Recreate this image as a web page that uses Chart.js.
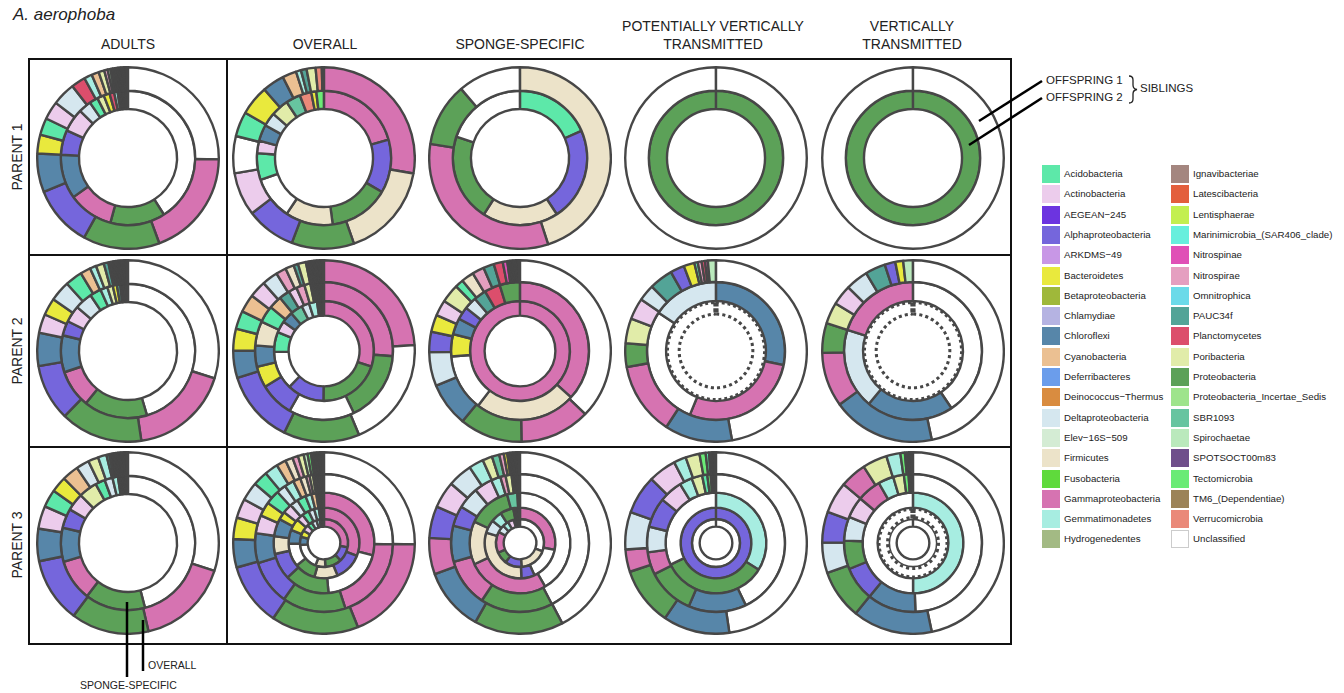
<!DOCTYPE html>
<html>
<head>
<meta charset="utf-8">
<script src="https://cdn.jsdelivr.net/npm/chart.js@4.4.1/dist/chart.umd.min.js"></script>
<style>
  html, body { margin: 0; padding: 0; background: #fff; }
  body { width: 1344px; height: 693px; position: relative; overflow: hidden; font-family: "Liberation Sans", Arial, sans-serif; color: #222; }
  .txt { position: absolute; white-space: nowrap; }
  .head { position: absolute; width: 220px; text-align: center; font-size: 14px; line-height: 18px; }
  .rowlab { position: absolute; font-size: 14px; transform: translate(-50%, -50%) rotate(-90deg); white-space: nowrap; }
  .cell { position: absolute; width: 184px; height: 184px; }
  .leg { position: absolute; font-size: 9.7px; line-height: 18px; white-space: nowrap; }
  .sw { display: inline-block; width: 18px; height: 18px; vertical-align: top; margin-right: 4px; box-sizing: border-box; }
  svg { position: absolute; left: 0; top: 0; }
</style>
</head>
<body>
<div class="txt" style="left:13px; top:5px; font-size:17px; font-style:italic;">A. aerophoba</div>
<div class="head" style="left:18px; top:35px;">ADULTS</div>
<div class="head" style="left:215px; top:35px;">OVERALL</div>
<div class="head" style="left:410px; top:35px;">SPONGE-SPECIFIC</div>
<div class="head" style="left:603px; top:17px;">POTENTIALLY VERTICALLY<br>TRANSMITTED</div>
<div class="head" style="left:802px; top:17px;">VERTICALLY<br>TRANSMITTED</div>
<div class="rowlab" style="left:17px; top:157px;">PARENT 1</div>
<div class="rowlab" style="left:17px; top:351px;">PARENT 2</div>
<div class="rowlab" style="left:17px; top:545px;">PARENT 3</div>
<div id="cells"></div>
<div id="legend"></div>
<div class="txt" style="left:1046px; top:74px; font-size:11.5px;">OFFSPRING 1</div>
<div class="txt" style="left:1046px; top:91px; font-size:11.5px;">OFFSPRING 2</div>
<div class="txt" style="left:1140px; top:82px; font-size:11.5px;">SIBLINGS</div>
<div class="txt" style="left:148px; top:659px; font-size:10.5px;">OVERALL</div>
<div class="txt" style="left:80px; top:679px; font-size:10.5px;">SPONGE-SPECIFIC</div>
<svg width="1344" height="693">
  <rect x="29" y="59" width="982" height="585" fill="none" stroke="#111" stroke-width="2"/>
  <line x1="227" y1="59" x2="227" y2="644" stroke="#111" stroke-width="2"/>
  <line x1="29" y1="255" x2="1011" y2="255" stroke="#111" stroke-width="2"/>
  <line x1="29" y1="447" x2="1011" y2="447" stroke="#111" stroke-width="2"/>
  <line x1="1042" y1="81" x2="979" y2="121" stroke="#000" stroke-width="2.5"/>
  <line x1="1042" y1="98" x2="969" y2="145" stroke="#000" stroke-width="2.5"/>
  <path d="M1129,76 q4,0 4,4 v5 q0,4 4,4.5 q-4,0.5 -4,4.5 v5 q0,4 -4,4" fill="none" stroke="#222" stroke-width="1.3"/>
  <line x1="127" y1="602" x2="127" y2="677" stroke="#000" stroke-width="2.5"/>
  <line x1="143" y1="620" x2="143" y2="671" stroke="#000" stroke-width="2.5"/>
</svg>
<script>
const taxa = ['Acidobacteria', 'Actinobacteria', 'AEGEAN\u2212245', 'Alphaproteobacteria', 'ARKDMS\u221249',
  'Bacteroidetes', 'Betaproteobacteria', 'Chlamydiae', 'Chloroflexi', 'Cyanobacteria', 'Deferribacteres',
  'Deinococcus\u2212Thermus', 'Deltaproteobacteria', 'Elev\u221216S\u2212509', 'Firmicutes', 'Fusobacteria',
  'Gammaproteobacteria', 'Gemmatimonadetes', 'Hydrogenedentes', 'Ignavibacteriae', 'Latescibacteria',
  'Lentisphaerae', 'Marinimicrobia_(SAR406_clade)', 'Nitrospinae', 'Nitrospirae', 'Omnitrophica', 'PAUC34f',
  'Planctomycetes', 'Poribacteria', 'Proteobacteria', 'Proteobacteria_Incertae_Sedis', 'SBR1093',
  'Spirochaetae', 'SPOTSOCT00m83', 'Tectomicrobia', 'TM6_(Dependentiae)', 'Verrucomicrobia', 'Unclassified'];
const taxonCodes = ['Aci', 'Act', 'AEG', 'Alp', 'ARK', 'Bac', 'Bet', 'Chla', 'Chl', 'Cya', 'Def', 'Dei', 'Del',
  'Elev', 'Fir', 'Fus', 'Gam', 'Gem', 'Hyd', 'Ign', 'Lat', 'Len', 'Mar', 'Nsp', 'Nsr', 'Omn', 'PAU', 'Pla', 'Por',
  'Pro', 'PIS', 'SBR', 'Spi', 'SPO', 'Tec', 'TM6', 'Ver', 'Unc'];
const taxonColors = ['#5de8a9', '#ecccec', '#6c34e0', '#7566dc', '#c897e6', '#e9e93d', '#9fb83a', '#b5b3e2',
  '#5786a9', '#ebc092', '#6b9deb', '#d98c40', '#d5e7ef', '#d4ecd4', '#ece3c9', '#5fda3c', '#d673b1', '#a7ede1',
  '#a3ba84', '#a4867f', '#e35f3d', '#c3ef50', '#67efdd', '#e050b6', '#e59fc0', '#6bdae9', '#53a497', '#dc4e6c',
  '#e1eca9', '#5ca158', '#9ee48c', '#67c4a0', '#bae9bc', '#6f4e8b', '#6aeb76', '#9c8358', '#ea8979', '#ffffff'];

// relative abundance (%) per ring, clockwise from 12 o'clock

// PARENT 1
const p1AdultsOverallTaxa = ['Unc','Gam','Pro','Alp','Chl','Bac','Aci','Act','Del','Pla','Gem','Cya','Por','Nsr','Spi','PAU','Tec','SBR','Ver','Lat','Omn','Def','Hyd','Mar','Chla','Ign','TM6','SPO','Fus','Elev','PIS','Nsp'];
const p1AdultsOverallPct = [25,19,13.5,10.8,6.8,3.3,3,3.2,4.1,2.5,1.4,1.3,1,0.6,0.5,0.4,0.3,0.2,0.2,0.15,0.15,0.15,0.15,0.15,0.15,0.15,0.15,0.15,0.15,0.15,0.15,0.15];
const p1AdultsSpongeTaxa = ['Unc','Pro','Gam','Chl','Alp','Act','Del','Aci','Por','Bac','Pla','Gem','PAU','Spi','Tec','Nsr','SBR','Cya','Ver','Lat','Omn','Hyd','Mar','Ign','Nsp'];
const p1AdultsSpongePct = [40,12.9,10.6,10.4,5.8,5.5,3,2,1.6,1.4,1.1,0.8,0.5,0.2,0.2,0.15,0.15,0.15,0.15,0.15,0.15,0.15,0.15,0.15,0.15];
const p1OverallOff1Taxa = ['Gam','Fir','Pro','Alp','Act','Unc','Aci','Bac','Chl','Cya','Gem','PAU','Por','Ver','Tec','Nsr'];
const p1OverallOff1Pct = [27.7,16.9,11.1,8.8,7.7,6.6,4.4,5.3,3.9,2.5,0.9,1,1.6,1.1,0.2,0.15];
const p1OverallOff2Taxa = ['Gam','Alp','Pro','Fir','Unc','Aci','Act','Chl','Del','Por','SBR','Ver','Bac','Tec'];
const p1OverallOff2Pct = [20.5,12.8,14.4,11.4,10.3,6.4,3,3.9,3.3,4.2,3.5,2.8,1.2,1.8];
const p1SpongeOff1Taxa = ['Fir','Gam','Pro','Unc'];
const p1SpongeOff1Pct = [45,32.5,11.3,11.2];
const p1SpongeOff2Taxa = ['Aci','Alp','Fir','Pro','Unc'];
const p1SpongeOff2Pct = [18.4,22.4,18.3,21.1,19.8];
const p1PvtOff1Taxa = ['Unc'];
const p1PvtOff1Pct = [100];
const p1PvtOff2Taxa = ['Pro'];
const p1PvtOff2Pct = [100];
const p1VtOff1Taxa = ['Unc'];
const p1VtOff1Pct = [100];
const p1VtOff2Taxa = ['Pro'];
const p1VtOff2Pct = [100];

// PARENT 2
const p2AdultsOverallTaxa = ['Unc','Gam','Pro','Alp','Chl','Act','Bac','Del','Aci','Cya','Gem','Por','PAU','Spi','Tec','Nsr','Pla','SBR','Ver','Lat','Omn','Def','Hyd','Mar','Chla','Ign','TM6','SPO','Fus','Elev','PIS','Nsp','Len'];
const p2AdultsOverallPct = [29.4,17.5,14.4,9.9,5.8,3.3,3,3.6,3,1.8,1.1,1.4,0.8,0.4,0.3,0.15,0.15,0.15,0.15,0.15,0.15,0.15,0.15,0.15,0.15,0.15,0.15,0.15,0.15,0.15,0.15,0.15,0.15];
const p2AdultsSpongeTaxa = ['Unc','Pro','Gam','Chl','Alp','Act','Del','Aci','Gem','Por','Bac','PAU','Spi','Tec','Nsr','Pla','SBR','Ver','Lat','Omn','Cya','Hyd','Mar','Ign'];
const p2AdultsSpongePct = [45,15.2,9,8.8,3.5,4,4.2,2.7,1.7,1.3,1,0.8,0.15,0.15,0.15,0.15,0.15,0.15,0.15,0.15,0.15,0.15,0.15,0.15];
const p2OverallOff1Taxa = ['Gam','Unc','Pro','Alp','Chl','Bac','Aci','Cya','Act','Del','Nsr','Fir','PAU','Por','Spi','Tec','Gem','Pla','SBR','Ver','Lat','Omn','Def','Hyd','Mar','Chla','Ign','TM6','SPO','Fus','Elev','PIS','Nsp','Len'];
const p2OverallOff1Pct = [23.8,19.6,13.4,12.9,4.8,3.9,3.2,3.2,3,2.8,1.8,1.5,0.8,1.4,0.2,0.2,0.2,0.15,0.15,0.15,0.15,0.15,0.15,0.15,0.15,0.15,0.15,0.15,0.15,0.15,0.15,0.15,0.15,0.15];
const p2OverallOff2Taxa = ['Gam','Pro','Unc','Alp','Bac','Chl','Fir','Aci','Cya','PAU','Act','Nsr','Por','Del','Gem','Spi','Tec','Pla','SBR','Ver','Lat','Omn','Def','Hyd','Mar','Chla','Ign','TM6','SPO','Fus','Elev'];
const p2OverallOff2Pct = [25.8,16.4,15.2,7.9,4.9,4.9,5.6,3.9,3,2.5,1.9,1.9,1.4,0.3,0.3,0.2,0.2,0.15,0.15,0.15,0.15,0.15,0.15,0.15,0.15,0.15,0.15,0.15,0.15,0.15,0.15];
const p2OverallOff3Taxa = ['Gam','Pro','Alp','Unc','Aci','Act','Chl','SBR','Del','Gem','Por','Bac','Spi','Tec','Nsr','Pla','Ver','Cya','Lat','Omn','Hyd','Mar'];
const p2OverallOff3Pct = [30,20.1,12,12.5,6.4,3.8,3.7,4,2.5,2.6,0.3,0.3,0.2,0.2,0.15,0.15,0.15,0.15,0.15,0.15,0.15,0.15];
const p2SpongeOff1Taxa = ['Unc','Gam','Pro','Chl','Del','Alp','Bac','Act','Por','Aci','Fir','Nsr','PAU','Pla','Nsp','Spi','Tec','SBR','Ver','Lat','Omn','Def','Hyd','Mar','Chla','Ign','TM6','SPO','Fus'];
const p2SpongeOff1Pct = [37,12.4,11.1,7.8,6,3.6,3,2.8,3.3,1.5,2.2,2.1,1.9,1.6,0.8,0.2,0.2,0.15,0.15,0.15,0.15,0.15,0.15,0.15,0.15,0.15,0.15,0.15,0.15];
const p2SpongeOff2Taxa = ['Gam','Fir','Unc','Bac','Chl','Alp','Del','PAU','Pla','Pro'];
const p2SpongeOff2Pct = [36.7,23.6,13.3,5.2,3.8,3,2.9,2.9,3.7,4.7];
const p2SpongeOff3Taxa = ['Gam'];
const p2SpongeOff3Pct = [100];
const p2PvtOff1Taxa = ['Unc','Chl','Gam','Pro','Por','Act','Del','PAU','Alp','Bac','Aci','Nsr','Pla','Nsp','Spi'];
const p2PvtOff1Pct = [47,12,12.9,4.2,4.4,3.8,2.9,4.2,2.5,1.9,0.6,0.7,0.6,0.5,1.4];
const p2PvtOff2Taxa = ['Chl','Gam','Unc','Del'];
const p2PvtOff2Pct = [28.3,27.9,28.2,15.6];
const p2PvtOff3Taxa = [];
const p2PvtOff3Pct = [];
const p2VtOff1Taxa = ['Unc','Chl','Gam','Pro','Por','Act','Del','PAU','Alp','Bac','Spi'];
const p2VtOff1Pct = [46.7,18.3,9.7,5.3,3.8,3.6,4,3.6,1.9,1.4,1.7];
const p2VtOff2Taxa = ['Unc','Chl','Del','Gam'];
const p2VtOff2Pct = [40.6,20.5,18.9,20];
const p2VtOff3Taxa = [];
const p2VtOff3Pct = [];

// PARENT 3
const p3AdultsOverallTaxa = ['Unc','Gam','Pro','Alp','Chl','Act','Aci','Bac','Cya','Del','Por','Gem','PAU','Tec','Spi','Nsr','Pla','SBR','Ver','Lat','Omn','Def','Hyd','Mar','Chla','Ign','TM6','SPO','Fus','Elev','PIS','Nsp','Len'];
const p3AdultsOverallPct = [29.6,16.2,13.7,11.4,5.7,4,3.1,2.8,2.9,2.3,1.8,1.5,0.5,0.4,0.15,0.15,0.15,0.15,0.15,0.15,0.15,0.15,0.15,0.15,0.15,0.15,0.15,0.15,0.15,0.15,0.15,0.15,0.15];
const p3AdultsSpongeTaxa = ['Unc','Pro','Gam','Chl','Alp','Act','Por','Aci','Del','Gem','Bac','PAU','Spi','Tec','Nsr','Pla','SBR','Ver','Lat','Omn','Cya','Hyd','Mar','Ign','TM6'];
const p3AdultsSpongePct = [45.4,14.4,9.9,8.1,4.6,4.2,4.4,2.3,1.9,1.3,0.2,0.2,0.15,0.15,0.15,0.15,0.15,0.15,0.15,0.15,0.15,0.15,0.15,0.15,0.15];
const p3OverallOff1Taxa = ['Unc','Gam','Pro','Alp','Chl','Bac','Act','Del','Aci','Gem','Cya','Fir','Nsr','Por','Spi','Tec','PAU','Pla','SBR','Ver','Lat','Omn','Def','Hyd','Mar','Chla','Ign','TM6','SPO','Fus','Elev'];
const p3OverallOff1Pct = [25,18.5,15.4,11.1,5,3.8,3.4,3.3,2.6,2.4,1.7,1.3,1,1,0.7,0.6,0.15,0.15,0.15,0.15,0.15,0.15,0.15,0.15,0.15,0.15,0.15,0.15,0.15,0.15,0.15];
const p3OverallOff2Taxa = ['Unc','Gam','Pro','Alp','Chl','Act','Bac','Aci','Del','Gem','Cya','Fir','Nsr','Por','Spi','Tec','PAU','Pla','SBR','Ver','Lat','Omn','Def','Hyd','Mar','Chla','Ign','TM6','SPO','Fus'];
const p3OverallOff2Pct = [25,19.4,14.7,10.3,6.9,4.2,3.3,3.3,2.2,2.2,1.7,1.4,0.8,0.8,0.2,0.2,0.15,0.15,0.15,0.15,0.15,0.15,0.15,0.15,0.15,0.15,0.15,0.15,0.15,0.15];
const p3OverallOff3Taxa = ['Gam','Unc','Pro','Alp','Fir','Chl','Bac','Act','Del','Aci','Gem','Cya','Nsr','Por','Spi','Tec','PAU','Pla','SBR','Ver','Lat','Omn','Def','Hyd','Mar'];
const p3OverallOff3Pct = [28,19,13.9,8.3,5.5,5.5,2.5,3,2.5,2.8,1.9,1.5,0.3,0.3,0.2,0.2,0.15,0.15,0.15,0.15,0.15,0.15,0.15,0.15,0.15];
const p3OverallOff4Taxa = ['Gam','Alp','Fir','Pro','Unc','Chl','Bac','Act','Aci','Del','Gem','Cya','Nsr','Por','Spi','Tec','PAU','Pla','SBR','Ver','Lat','Omn'];
const p3OverallOff4Pct = [29,12,10,9,10,6,5,3,3,2.5,2,0.3,0.3,0.3,0.2,0.2,0.15,0.15,0.15,0.15,0.15,0.15];
const p3OverallOff5Taxa = ['Gam','Alp','Pro','Fir','Unc','Chl','Bac','Act','Aci','Del','Gem','Cya','Nsr','Por','Spi','Tec','PAU','Pla','SBR','Ver'];
const p3OverallOff5Pct = [25,9,10,6,16,5,4,4,3,3,2,0.4,0.4,0.4,0.3,0.3,0.2,0.2,0.2,0.2];
const p3SpongeOff1Taxa = ['Unc','Pro','Chl','Gam','Alp','Act','Del','Gem','Por','SBR','Nsr','Bac','Aci','Tec','Spi','PAU','Pla','Ver','Lat','Omn','Cya','Hyd','Mar','Ign','Fir','TM6'];
const p3SpongeOff1Pct = [41.8,15.7,11.1,6.4,5.6,4.7,4.3,2.6,1.7,1.3,0.8,0.6,0.2,0.2,0.15,0.15,0.15,0.15,0.15,0.15,0.15,0.15,0.15,0.15,0.15,0.15];
const p3SpongeOff2Taxa = ['Unc','Pro','Gam','Chl','Alp','Del','Act','Gem','Nsr','Por','Aci','Bac','Spi','Tec','PAU','Pla','SBR','Ver','Lat','Omn','Cya','Hyd'];
const p3SpongeOff2Pct = [41.7,16.7,11.1,8.3,4.7,5,4.2,2.2,1.2,1.4,0.2,0.2,0.15,0.15,0.15,0.15,0.15,0.15,0.15,0.15,0.15,0.15];
const p3SpongeOff3Taxa = ['Unc','Gam','Fir','Pro','SBR','Aci','Gem','Nsr','Por'];
const p3SpongeOff3Pct = [41.7,26.4,13.9,13.9,3.3,0.2,0.2,0.2,0.2];
const p3SpongeOff4Taxa = ['Gam','Unc','Alp','Fir','Del','Gem','Pro','Aci','Nsr','Por','Spi','Tec','PAU'];
const p3SpongeOff4Pct = [27.8,15,6,30,6,5,6,0.6,0.6,0.6,0.4,0.4,0.4];
const p3SpongeOff5Taxa = ['Unc','Fir','Alp','Pro','Gam','Del','Gem','Act','Aci','Nsr','Por','Spi'];
const p3SpongeOff5Pct = [30,18,11,8,14,5,4,4,1,1,1,1];
const p3PvtOff1Taxa = ['Unc','Chl','Pro','Gam','Del','Alp','Act','Gem','Por','Tec','Aci','Nsr','Pla','Spi','PAU','SBR','Ver'];
const p3PvtOff1Pct = [47.8,11.9,10.4,4,6.7,6.9,5,2.2,2.5,1.1,0.6,0.3,0.3,0.15,0.15,0.15,0.15];
const p3PvtOff2Taxa = ['Unc','Chl','Pro','Gam','Del','Alp','Act','Gem','Por','Aci','Tec','Nsr','Pla','Spi','PAU','SBR','Ver'];
const p3PvtOff2Pct = [43,13.6,11.1,5.3,6,7,5.5,3,2.5,1.2,0.8,0.3,0.3,0.15,0.15,0.15,0.15];
const p3PvtOff3Taxa = ['Gem','Pro','Unc'];
const p3PvtOff3Pct = [33.9,34,32];
const p3PvtOff4Taxa = ['Alp'];
const p3PvtOff4Pct = [100];
const p3PvtOff5Taxa = ['Unc'];
const p3PvtOff5Pct = [100];
const p3VtOff1Taxa = ['Unc','Chl','Pro','Del','Alp','Act','Gam','Por','Gem','Tec','Aci','Nsr','Pla','Spi','PAU','SBR','Ver'];
const p3VtOff1Pct = [46.7,14.2,8.8,5.4,5.5,5.6,4.7,4.4,2.5,0.8,0.3,0.3,0.2,0.15,0.15,0.15,0.15];
const p3VtOff2Taxa = ['Unc','Chl','Alp','Pro','Del','Act','Gam','Gem','Por','Tec','Aci','Nsr','Pla','Spi','PAU'];
const p3VtOff2Pct = [49.4,11.4,8,6.7,5.6,5,5.6,3.6,2.5,1.1,0.3,0.2,0.2,0.15,0.15];
const p3VtOff3Taxa = ['Gem','Unc'];
const p3VtOff3Pct = [50,50];
const p3VtOff4Taxa = [];
const p3VtOff4Pct = [];
const p3VtOff5Taxa = ['Unc'];
const p3VtOff5Pct = [100];

// ring thickness (relative) and hole size by number of rings
const ringLayouts = {
  2: { cutout: '54%', weights: [26, 20] },
  3: { cutout: '39%', weights: [24, 21, 16] },
  5: { cutout: '18%', weights: [24, 20.5, 16.5, 12.5, 8.5] }
};

const colX = [128, 324, 520, 716, 913];
const rowY = [158, 351, 543];

const cells = [
  [0, 0, [[p1AdultsOverallTaxa, p1AdultsOverallPct], [p1AdultsSpongeTaxa, p1AdultsSpongePct]]],
  [0, 1, [[p1OverallOff1Taxa, p1OverallOff1Pct], [p1OverallOff2Taxa, p1OverallOff2Pct]]],
  [0, 2, [[p1SpongeOff1Taxa, p1SpongeOff1Pct], [p1SpongeOff2Taxa, p1SpongeOff2Pct]]],
  [0, 3, [[p1PvtOff1Taxa, p1PvtOff1Pct], [p1PvtOff2Taxa, p1PvtOff2Pct]]],
  [0, 4, [[p1VtOff1Taxa, p1VtOff1Pct], [p1VtOff2Taxa, p1VtOff2Pct]]],
  [1, 0, [[p2AdultsOverallTaxa, p2AdultsOverallPct], [p2AdultsSpongeTaxa, p2AdultsSpongePct]]],
  [1, 1, [[p2OverallOff1Taxa, p2OverallOff1Pct], [p2OverallOff2Taxa, p2OverallOff2Pct], [p2OverallOff3Taxa, p2OverallOff3Pct]]],
  [1, 2, [[p2SpongeOff1Taxa, p2SpongeOff1Pct], [p2SpongeOff2Taxa, p2SpongeOff2Pct], [p2SpongeOff3Taxa, p2SpongeOff3Pct]]],
  [1, 3, [[p2PvtOff1Taxa, p2PvtOff1Pct], [p2PvtOff2Taxa, p2PvtOff2Pct], [p2PvtOff3Taxa, p2PvtOff3Pct]]],
  [1, 4, [[p2VtOff1Taxa, p2VtOff1Pct], [p2VtOff2Taxa, p2VtOff2Pct], [p2VtOff3Taxa, p2VtOff3Pct]]],
  [2, 0, [[p3AdultsOverallTaxa, p3AdultsOverallPct], [p3AdultsSpongeTaxa, p3AdultsSpongePct]]],
  [2, 1, [[p3OverallOff1Taxa, p3OverallOff1Pct], [p3OverallOff2Taxa, p3OverallOff2Pct], [p3OverallOff3Taxa, p3OverallOff3Pct], [p3OverallOff4Taxa, p3OverallOff4Pct], [p3OverallOff5Taxa, p3OverallOff5Pct]]],
  [2, 2, [[p3SpongeOff1Taxa, p3SpongeOff1Pct], [p3SpongeOff2Taxa, p3SpongeOff2Pct], [p3SpongeOff3Taxa, p3SpongeOff3Pct], [p3SpongeOff4Taxa, p3SpongeOff4Pct], [p3SpongeOff5Taxa, p3SpongeOff5Pct]]],
  [2, 3, [[p3PvtOff1Taxa, p3PvtOff1Pct], [p3PvtOff2Taxa, p3PvtOff2Pct], [p3PvtOff3Taxa, p3PvtOff3Pct], [p3PvtOff4Taxa, p3PvtOff4Pct], [p3PvtOff5Taxa, p3PvtOff5Pct]]],
  [2, 4, [[p3VtOff1Taxa, p3VtOff1Pct], [p3VtOff2Taxa, p3VtOff2Pct], [p3VtOff3Taxa, p3VtOff3Pct], [p3VtOff4Taxa, p3VtOff4Pct], [p3VtOff5Taxa, p3VtOff5Pct]]]
];

function colorOf(code) {
  return taxonColors[taxonCodes.indexOf(code)];
}

function buildRing(codes, values, weight) {
  if (codes.length === 0) {
    // offspring with no reads in this fraction: dashed empty ring
    return { data: [1], backgroundColor: '#ffffff', borderDash: [3, 3], borderWidth: 2.6, borderAlign: 'inner', weight: weight };
  }
  return {
    data: values,
    labels: codes.map(c => taxa[taxonCodes.indexOf(c)]),
    backgroundColor: codes.map(colorOf),
    weight: weight
  };
}

function drawCell(row, col, rings) {
  const holder = document.createElement('div');
  holder.className = 'cell';
  holder.style.left = (colX[col] - 92) + 'px';
  holder.style.top = (rowY[row] - 92) + 'px';
  const canvas = document.createElement('canvas');
  canvas.width = 184;
  canvas.height = 184;
  holder.appendChild(canvas);
  document.getElementById('cells').appendChild(holder);

  const layout = ringLayouts[rings.length];
  new Chart(canvas.getContext('2d'), {
    type: 'doughnut',
    data: {
      datasets: rings.map((r, i) => buildRing(r[0], r[1], layout.weights[i]))
    },
    options: {
      responsive: false,
      animation: false,
      cutout: layout.cutout,
      circumference: 359.9,   // leaves the seam line at 12 o'clock like the original
      hoverOffset: 0,
      layout: { padding: 0 },
      elements: {
        arc: { borderColor: '#474747', borderWidth: 2.4, borderAlign: 'center' }
      },
      plugins: {
        legend: { display: false },
        tooltip: { enabled: false }
      }
    }
  });
}

cells.forEach(c => drawCell(c[0], c[1], c[2]));

// legend, two columns
const legend = document.getElementById('legend');
taxa.forEach((name, i) => {
  const col = i < 19 ? 0 : 1;
  const rowIdx = i % 19;
  const item = document.createElement('div');
  item.className = 'leg';
  item.style.left = (col === 0 ? 1042 : 1171) + 'px';
  item.style.top = (165 + rowIdx * 20.3) + 'px';
  const border = name === 'Unclassified' ? 'border:1px solid #ccc;' : '';
  item.innerHTML = `<span class="sw" style="background:${taxonColors[i]};${border}"></span>${name}`;
  legend.appendChild(item);
});
</script>
</body>
</html>
